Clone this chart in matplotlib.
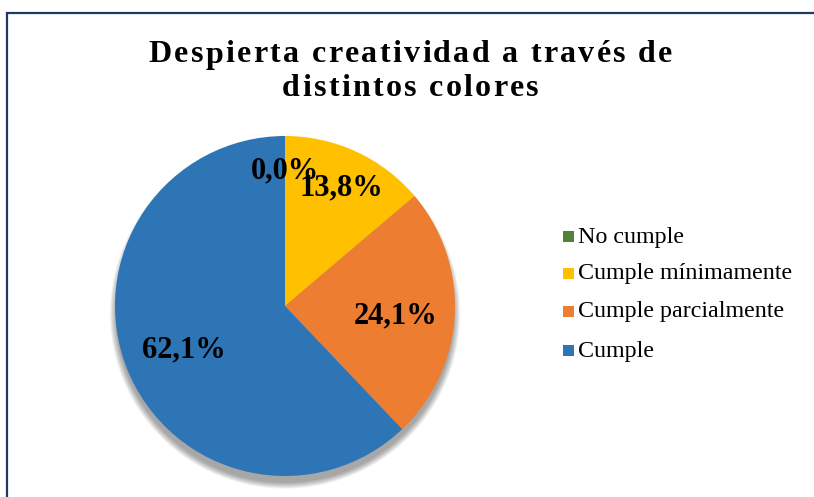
import matplotlib
matplotlib.use("Agg")
import matplotlib.pyplot as plt
import matplotlib.transforms as mtrans
import numpy as np
from matplotlib.patches import Circle, Rectangle

categories = ["No cumple", "Cumple mínimamente", "Cumple parcialmente", "Cumple"]
values = [0.0, 13.8, 24.1, 62.1]
colors = ["#548235", "#FFC000", "#ED7D31", "#2E75B6"]
title_lines = ["Despierta creatividad a través de", "distintos colores"]
label_radii = [0.82, 0.79, 0.65, 0.64]

W, H = 814, 497
fig = plt.figure(figsize=(W / 100, H / 100), dpi=100)
fig.patch.set_facecolor("white")

# border
fig.add_artist(Rectangle((7 / W, -0.1), 1.2, (H - 13) / H + 0.1, transform=fig.transFigure,
                         fill=False, edgecolor="#1F3864", linewidth=1.6))

# pie axes
cx, cy, r = 285, H - 306, 170
ax = fig.add_axes([(cx - r) / W, (cy - r) / H, 2 * r / W, 2 * r / H])
ax.axis("off")

# soft shadow (mostly below the pie)
for i in range(10):
    rr = 0.99 + 0.004 * (10 - i)
    ax.add_patch(Circle((0.0, -0.045), rr, color="black", alpha=0.04, lw=0, zorder=0,
                        clip_on=False))

wedges, _ = ax.pie(values, colors=colors, startangle=90, counterclock=False, radius=1,
                   wedgeprops=dict(linewidth=0, clip_on=False), normalize=True)
for w in wedges:
    w.set_zorder(2)
ax.set_xlim(-1, 1)
ax.set_ylim(-1, 1)
ax.set_aspect("equal")

down = mtrans.ScaledTranslation(0, -4 / 100, fig.dpi_scale_trans)
for w, v, lr in zip(wedges, values, label_radii):
    ang = np.deg2rad((w.theta1 + w.theta2) / 2)
    ax.text(lr * np.cos(ang), lr * np.sin(ang), f"{v:.1f}%".replace(".", ","),
            ha="center", va="center", fontsize=22, fontweight="bold",
            family="Liberation Serif", zorder=5, transform=ax.transData + down)

# title with letter spacing
renderer = fig.canvas.get_renderer()
def spaced_text(s, y_px, size, spacing):
    widths = []
    for ch in s:
        t = fig.text(0, 0, ch if ch != " " else "a", fontsize=size, fontweight="bold",
                     family="Liberation Serif")
        bb = t.get_window_extent(renderer)
        widths.append(bb.width if ch != " " else bb.width * 0.5)
        t.remove()
    total = sum(widths) + spacing * (len(s) - 1)
    x = (W + 7) / 2 - total / 2
    for ch, wd in zip(s, widths):
        if ch != " ":
            fig.text(x / W, 1 - y_px / H, ch, fontsize=size, fontweight="bold",
                     family="Liberation Serif", ha="left", va="center")
        x += wd + spacing

spaced_text(title_lines[0], 55, 23, 2.3)
spaced_text(title_lines[1], 88, 23, 2.3)

# legend
leg_y = [237, 274, 312, 351]
for cat, col, y in zip(categories, colors, leg_y):
    fig.add_artist(Rectangle((563 / W, 1 - (y + 5) / H), 11 / W, 11 / H,
                             transform=fig.transFigure, facecolor=col, edgecolor="none"))
    fig.text(578 / W, 1 - y / H, cat, fontsize=17.3, family="Liberation Serif",
             ha="left", va="center")

fig.savefig("out.png", dpi=100)
